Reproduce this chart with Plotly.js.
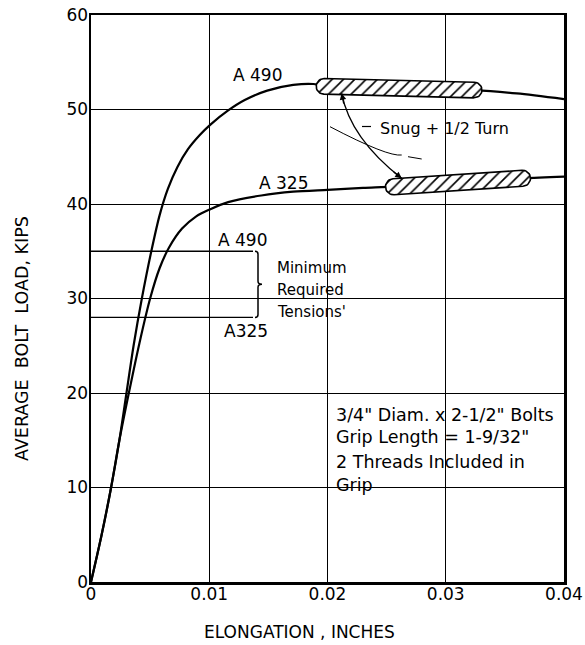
<!DOCTYPE html>
<html><head><meta charset="utf-8">
<script src="https://cdn.plot.ly/plotly-3.0.1.min.js"></script>
<style>html,body{margin:0;padding:0;background:#fff}#chart{width:585px;height:645px}</style>
</head><body><div id="chart"></div>
<script>
// ---- data ----
const a490X = [0, 0.0009, 0.0017, 0.0024, 0.0030, 0.0036, 0.0043, 0.0051, 0.0058, 0.0065, 0.0073, 0.0082, 0.0092, 0.0101, 0.0116, 0.0130, 0.0149, 0.0171, 0.0188, 0.0197, 0.0260, 0.0324, 0.0360, 0.0400];
const a490Y = [0, 5, 10, 15, 20, 25, 30, 35.0, 38.8, 41.6, 43.9, 45.8, 47.3, 48.4, 49.9, 51.0, 52.0, 52.6, 52.7, 52.45, 52.25, 52.06, 51.7, 51.1];
const a325X = [0, 0.0009, 0.0017, 0.0024, 0.0032, 0.0041, 0.0050, 0.0058, 0.0066, 0.0077, 0.0089, 0.0100, 0.0116, 0.0144, 0.0171, 0.0200, 0.0230, 0.0256, 0.0310, 0.0365, 0.0400];
const a325Y = [0, 5, 10, 15, 20, 25.3, 30, 33.2, 35.4, 37.4, 38.7, 39.4, 40.2, 40.9, 41.3, 41.5, 41.7, 41.83, 42.3, 42.72, 42.9];
const snug490X = [0.0197, 0.0324];
const snug490Y = [52.45, 52.06];
const snug325X = [0.02558, 0.03649];
const snug325Y = [41.83, 42.72];
const minTensionValues = [35, 28];
const minTensionLabels = ['A 490', 'A325'];
const xTickVals = [0, 0.01, 0.02, 0.03, 0.04];
const xTickText = ['0', '0.01', '0.02', '0.03', '0.04'];
const yTickVals = [0, 10, 20, 30, 40, 50, 60];
const yTickText = ['0', '10', '20', '30', '40', '50', '60'];
const curveLabels = ['A 490', 'A 325'];
const noteLines = ['3/4" Diam. x 2-1/2" Bolts', 'Grip Length = 1-9/32"', '2 Threads Included in', 'Grip'];
const tensionNote = ['Minimum', 'Required', 'Tensions\''];

// ---- layout geometry ----
const W = 585, H = 645, ML = 91, MR = 21, MT = 15, MB = 63;
const XR = [0, 0.04], YR = [0, 60];
const PW = W - ML - MR, PH = H - MT - MB;
const toPx = (x, y) => [ML + (x - XR[0]) / (XR[1] - XR[0]) * PW, MT + PH - (y - YR[0]) / (YR[1] - YR[0]) * PH];
const toData = (px, py) => [XR[0] + (px - ML) / PW * (XR[1] - XR[0]), YR[0] + (MT + PH - py) / PH * (YR[1] - YR[0])];
const FONT = 'DejaVu Sans';

function stadium(xs, ys, r) {
  const [ax, ay] = toPx(xs[0], ys[0]);
  const [bx, by] = toPx(xs[1], ys[1]);
  const L = Math.hypot(bx - ax, by - ay);
  const ux = (bx - ax) / L, uy = (by - ay) / L;
  const nx = -uy, ny = ux;
  const angN = Math.atan2(ny, nx);
  const N = 18, px = [], py = [];
  for (let i = 0; i <= N; i++) { const t = angN - Math.PI * i / N; px.push(bx + r * Math.cos(t)); py.push(by + r * Math.sin(t)); }
  for (let i = 0; i <= N; i++) { const t = angN - Math.PI - Math.PI * i / N; px.push(ax + r * Math.cos(t)); py.push(ay + r * Math.sin(t)); }
  px.push(px[0]); py.push(py[0]);
  const X = [], Y = [];
  px.forEach((p, i) => { const d = toData(p, py[i]); X.push(d[0]); Y.push(d[1]); });
  return {X, Y};
}

const curveLine = {color: '#000', width: 2.2, shape: 'spline', smoothing: 0.8};
const ov490 = stadium(snug490X, snug490Y, 7.8);
const ov325 = stadium(snug325X, snug325Y, 8);
const ovalStyle = {
  type: 'scatter', mode: 'lines', fill: 'toself', fillcolor: '#fff',
  fillpattern: {shape: '/', fgcolor: '#000', bgcolor: '#fff', size: 8, solidity: 0.2},
  line: {color: '#000', width: 1.6}, hoverinfo: 'skip', showlegend: false
};
const traces = [
  {type: 'scatter', mode: 'lines', x: a490X, y: a490Y, line: curveLine, name: 'A490', showlegend: false},
  {type: 'scatter', mode: 'lines', x: a325X, y: a325Y, line: curveLine, name: 'A325', showlegend: false},
  Object.assign({x: ov490.X, y: ov490.Y}, ovalStyle),
  Object.assign({x: ov325.X, y: ov325.Y}, ovalStyle)
];

// helpers for shapes in pixel offsets
const P = (px, py) => toData(px, py);
const mask = (pxa, pya, pxb, pyb) => {
  const a = P(pxa, pya), b = P(pxb, pyb);
  return {type: 'rect', xref: 'x', yref: 'y', x0: a[0], y0: a[1], x1: b[0], y1: b[1], fillcolor: '#fff', line: {width: 0}, layer: 'below'};
};
const seg = (a, b, w) => ({type: 'line', xref: 'x', yref: 'y', x0: a[0], y0: a[1], x1: b[0], y1: b[1], line: {color: '#000', width: w}});
const qpath = (p0, p1, p2, w) => ({type: 'path', xref: 'x', yref: 'y',
  path: `M ${p0[0]},${p0[1]} Q ${p1[0]},${p1[1]} ${p2[0]},${p2[1]}`, line: {color: '#000', width: w}});

const tensionEnd = P(253, 0)[0];
const shapes = [
  mask(254, 250, 358, 327),
  mask(325, 127, 335, 187),
  mask(442, 112, 452, 145),
  mask(320, 397, 560, 482),
  mask(320, 482, 424, 505),
];
minTensionValues.forEach(v => shapes.push(seg([0, v], [tensionEnd, v], 1.3)));
// brace
{
  const [, yTop] = toPx(0, minTensionValues[0]);
  const [, yBot] = toPx(0, minTensionValues[1]);
  const bx = 258, ym = (yTop + yBot) / 2;
  const pts = [[bx - 3, yTop], [bx, yTop + 3], [bx, ym - 3], [bx + 4, ym], [bx, ym + 3], [bx, yBot - 3], [bx - 3, yBot]].map(p => P(p[0], p[1]));
  let d = `M ${pts[0][0]},${pts[0][1]} Q ${pts[1][0]},${pts[0][1]} ${pts[1][0]},${pts[1][1]} L ${pts[2][0]},${pts[2][1]} Q ${pts[2][0]},${pts[3][1]} ${pts[3][0]},${pts[3][1]} Q ${pts[4][0]},${pts[3][1]} ${pts[4][0]},${pts[4][1]} L ${pts[5][0]},${pts[5][1]} Q ${pts[5][0]},${pts[6][1]} ${pts[6][0]},${pts[6][1]}`;
  shapes.push({type: 'path', xref: 'x', yref: 'y', path: d, line: {color: '#000', width: 1.5}});
}
// snug arrow curve
const arrFrom = P(341.7, 93.3), arrCtl = P(350.3, 138.2), arrTo = P(401.7, 178.3);
shapes.push(qpath(arrFrom, arrCtl, arrTo, 1.3));
// thin stray curve and dash
shapes.push(qpath(P(330, 126.7), P(388, 157), P(401.7, 155), 1));
shapes.push(seg(P(408, 156.7), P(421.7, 159), 1));
// leader dash to text
shapes.push(seg(P(362, 126.5), P(371, 126.5), 1.2));

const txt = (text, x, y, size, xanchor) => ({text, x, y, xref: 'x', yref: 'y', showarrow: false,
  xanchor: xanchor || 'center', yanchor: 'middle', font: {family: FONT, size, color: '#000'}});
const annotations = [
  txt(curveLabels[0], 0.01404, 53.65, 17),
  txt(curveLabels[1], 0.01624, 42.2, 17),
  txt(minTensionLabels[0], 0.01277, 36.2, 17),
  txt(minTensionLabels[1], 0.0131, 26.6, 17),
  txt(tensionNote[0], 0.01556, 33.2, 15, 'left'),
  txt(tensionNote[1], 0.01556, 30.9, 15, 'left'),
  txt(tensionNote[2], 0.01556, 28.6, 15, 'left'),
  txt('Snug + 1/2 Turn', 0.02427, 48.0, 16, 'left'),
  txt(noteLines[0], 0.02055, 17.67, 17.5, 'left'),
  txt(noteLines[1], 0.02055, 15.34, 17.5, 'left'),
  txt(noteLines[2], 0.02055, 12.7, 17.5, 'left'),
  txt(noteLines[3], 0.02055, 10.26, 17.5, 'left'),
  // arrow heads
  {x: arrFrom[0], y: arrFrom[1], xref: 'x', yref: 'y', text: '', showarrow: true, ax: 2.3, ay: 11.8,
    arrowhead: 2, arrowsize: 1, arrowwidth: 1.3, arrowcolor: '#000', standoff: 0},
  {x: arrTo[0], y: arrTo[1], xref: 'x', yref: 'y', text: '', showarrow: true, ax: -9.5, ay: -7.4,
    arrowhead: 2, arrowsize: 1, arrowwidth: 1.3, arrowcolor: '#000', standoff: 0},
  // axis titles
  {text: 'AVERAGE  BOLT  LOAD, KIPS', xref: 'paper', yref: 'paper', x: (22 - ML) / PW, y: (MT + PH - 339) / PH,
    textangle: -90, showarrow: false, xanchor: 'center', yanchor: 'middle', font: {family: FONT, size: 17.5, color: '#000'}},
  {text: 'ELONGATION , INCHES', xref: 'paper', yref: 'paper', x: (299 - ML) / PW, y: (MT + PH - 632) / PH,
    showarrow: false, xanchor: 'center', yanchor: 'middle', font: {family: FONT, size: 17, color: '#000'}}
];

const axisBase = {showgrid: true, gridcolor: '#000', gridwidth: 1, zeroline: false, showline: true, mirror: true,
  linecolor: '#000', linewidth: 2.5, ticks: '', fixedrange: true, tickfont: {family: FONT, size: 17, color: '#000'}};
const layout = {
  width: W, height: H, margin: {l: ML, r: MR, t: MT, b: MB}, paper_bgcolor: '#fff', plot_bgcolor: '#fff',
  showlegend: false,
  xaxis: Object.assign({}, axisBase, {range: XR, tickvals: xTickVals, ticktext: xTickText, ticklabelstandoff: -5}),
  yaxis: Object.assign({}, axisBase, {range: YR, tickvals: yTickVals, ticktext: yTickText, ticklabelstandoff: -3}),
  shapes, annotations
};
Plotly.newPlot('chart', traces, layout, {staticPlot: true, displayModeBar: false});
</script></body></html>
